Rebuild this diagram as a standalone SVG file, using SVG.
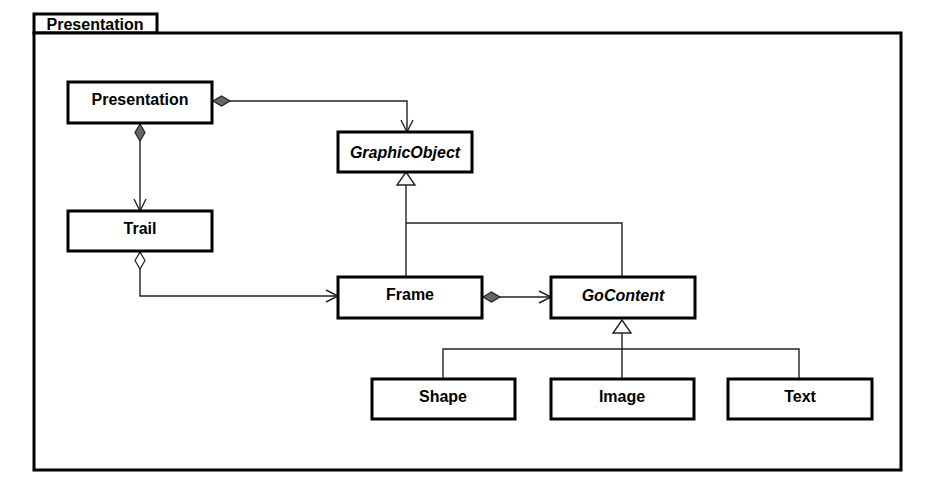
<svg xmlns="http://www.w3.org/2000/svg" width="939" height="492" viewBox="0 0 939 492">
<style>
.box{fill:#fff;stroke:#000;stroke-width:3}
.lbl{font-family:"Liberation Sans",Arial,sans-serif;font-size:16px;font-weight:bold;fill:#000;text-anchor:middle}
.it{font-style:italic}
.ln{fill:none;stroke:#222;stroke-width:1.4}
.comp{fill:#666;stroke:#222;stroke-width:1.2}
.agg{fill:#fff;stroke:#222;stroke-width:1.2}
.tri{fill:#fff;stroke:#222;stroke-width:1.4}
</style>
<rect width="939" height="492" fill="#fff"/>
<g id="package">
<rect class="box" x="34" y="14" width="123" height="19"/>
<rect class="box" x="34" y="33" width="867" height="437"/>
<text class="lbl" x="95" y="30">Presentation</text>
</g>
<g id="connectors">
<path class="ln" d="M230,101 H407 V132"/>
<path class="ln" d="M401,120 L407,132 L413,120"/>
<polygon class="comp" points="213,101 221.5,96 230,101 221.5,106"/>
<path class="ln" d="M140,141 V211"/>
<path class="ln" d="M134,199 L140,211 L146,199"/>
<polygon class="comp" points="140,124 145,132.5 140,141 135,132.5"/>
<path class="ln" d="M140,269 V296 H338"/>
<path class="ln" d="M326,290 L338,296 L326,302"/>
<polygon class="agg" points="140,252 145,260.5 140,269 135,260.5"/>
<path class="ln" d="M406,277 V185"/>
<path class="ln" d="M622,277 V223 H406"/>
<polygon class="tri" points="406,172 415,185 397,185"/>
<path class="ln" d="M500,297 H551"/>
<path class="ln" d="M539,291 L551,297 L539,303"/>
<polygon class="comp" points="483,297 491.5,292 500,297 491.5,302"/>
<path class="ln" d="M443,379 V349 H799 V379 M622,379 V333"/>
<polygon class="tri" points="622,320 631,333 613,333"/>
</g>
<g id="n-presentation"><rect class="box" x="68" y="82" width="144" height="41"/><text class="lbl" x="140" y="105">Presentation</text></g>
<g id="n-graphicobject"><rect class="box" x="338" y="132" width="134" height="40"/><text class="lbl it" x="405" y="158">GraphicObject</text></g>
<g id="n-trail"><rect class="box" x="68" y="211" width="144" height="40"/><text class="lbl" x="140" y="234">Trail</text></g>
<g id="n-frame"><rect class="box" x="338" y="277" width="144" height="41"/><text class="lbl" x="410" y="300">Frame</text></g>
<g id="n-gocontent"><rect class="box" x="551" y="277" width="144" height="41"/><text class="lbl it" x="623" y="301">GoContent</text></g>
<g id="n-shape"><rect class="box" x="372" y="379" width="143" height="40"/><text class="lbl" x="443" y="402">Shape</text></g>
<g id="n-image"><rect class="box" x="551" y="379" width="143" height="40"/><text class="lbl" x="622" y="402">Image</text></g>
<g id="n-text"><rect class="box" x="728" y="379" width="144" height="40"/><text class="lbl" x="800" y="402">Text</text></g>
</svg>
